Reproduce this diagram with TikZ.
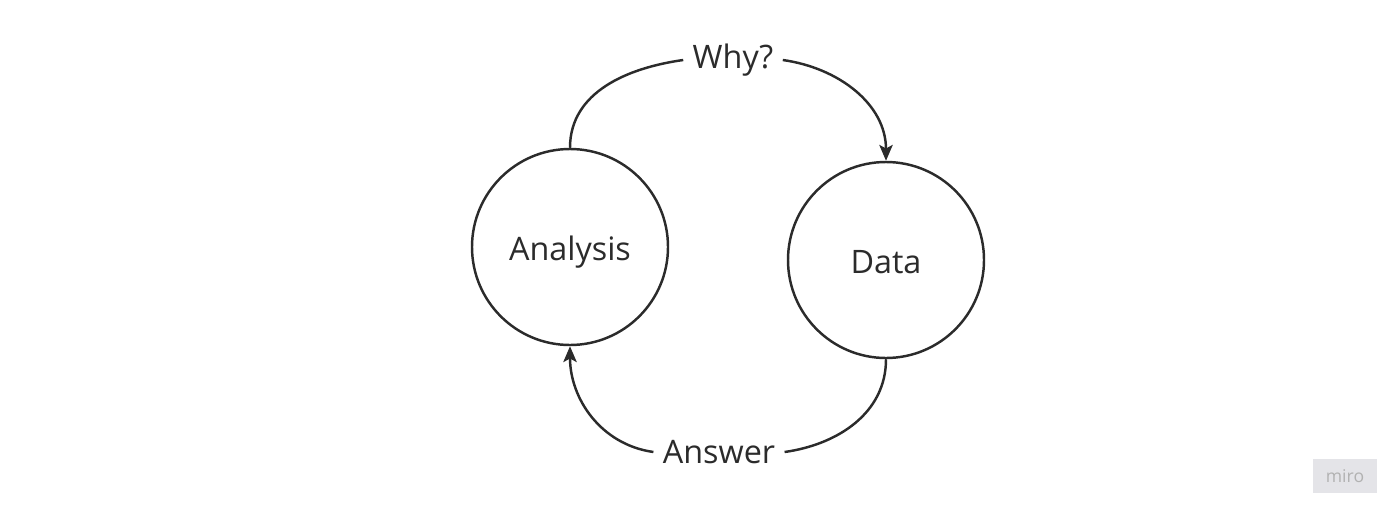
\documentclass[tikz,border=0pt]{standalone}
\usepackage{fontspec}
\setmainfont{Open Sans}
\usetikzlibrary{arrows.meta}

\definecolor{ink}{HTML}{2B2B2B}
\definecolor{badge}{HTML}{E4E4E8}

\begin{document}
\begin{tikzpicture}[
    stage/.style={circle, draw=ink, line width=0.7pt, minimum size=1.96cm, inner sep=0pt,
                  text=ink, text height=8pt, text depth=0.5pt, font=\fontsize{9.2}{11}\selectfont},
    tag/.style={inner sep=2.5pt, text=ink, font=\fontsize{9.2}{11}\selectfont},
    flow/.style={-{Stealth[length=4.5pt,width=3.8pt,inset=1pt]}}]
\useasboundingbox (0,0) rectangle (14,5.16);

\node[stage] (analysis) at (5.70,2.69) {Analysis};
\node[stage] (data) at (8.86,2.56) {Data};
\node[tag] (why) at (7.33,4.56) {Why?};
\node[tag] (answer) at (7.19,0.64) {Answer};

% the loop between the two circles
\draw[ink, line width=0.7pt] (analysis.north) to[out=90,in=188] (why.west);
\draw[ink, line width=0.7pt, flow] (why.east) to[out=-8,in=90] (data.north);
\draw[ink, line width=0.7pt] (data.south) to[out=-90,in=8] (answer.east);
\draw[ink, line width=0.7pt, flow] (answer.west) to[out=172,in=-90] (analysis.south);

% watermark
\node[fill=badge, minimum width=0.64cm, minimum height=0.34cm, inner sep=0pt,
      text=gray!60, font=\fontsize{5}{6}\selectfont] (miro) at (13.45,0.40) {miro};
\end{tikzpicture}
\end{document}
